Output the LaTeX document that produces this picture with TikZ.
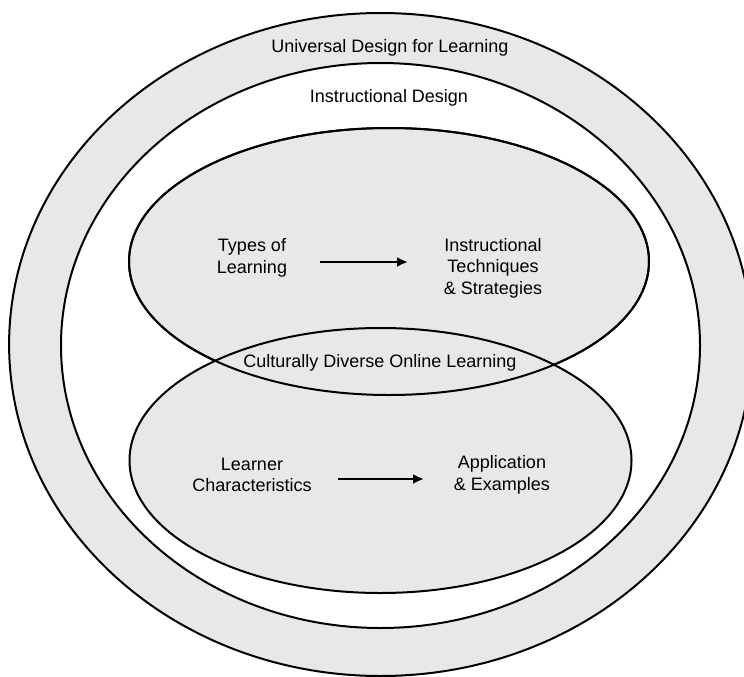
\documentclass[tikz,border=0pt]{standalone}
\usepackage{fontspec}
\setmainfont{Liberation Sans}
\usetikzlibrary{shapes.geometric}
\usetikzlibrary{arrows.meta}
\definecolor{areagray}{RGB}{232,232,232}

\begin{document}
\begin{tikzpicture}[x=1pt,y=-1pt,
  zone/.style={ellipse, draw, line width=2pt, inner sep=0pt},
  caption/.style={align=center, font=\fontsize{18}{21.5}\selectfont},
  flow/.style={-{Latex[length=11pt,width=10pt]}, line width=2.4pt}]
%\draw [help lines] (0,0) grid[step=50] (744,677);
\useasboundingbox (0,0) rectangle (744,677);
\clip (0,0) rectangle (744,677);

\node[zone, fill=areagray, minimum width=743, minimum height=663] (udlz) at (380.6,344.5) {};
\node[zone, fill=white,    minimum width=639, minimum height=565] (indz) at (380.5,345.5) {};
\node[zone, fill=areagray, minimum width=520, minimum height=267] (typz) at (389,261.5) {};
\node[zone, fill=areagray, minimum width=502, minimum height=265] (lrnz) at (380.5,460.5) {};
\draw[line width=2pt] (typz.center) ellipse [x radius=260, y radius=133.5];

\node[caption] (udl)  at (390,48)  {Universal Design for Learning};
\node[caption] (ind)  at (389,98)  {Instructional Design};
\node[caption] (cdol) at (380,363) {Culturally Diverse Online Learning};

\node[caption] (tol) at (252,258) {Types of\\Learning};
\node[caption] (its) at (493,268) {Instructional\\Techniques\\\& Strategies};
\node[caption] (lch) at (252,475) {Learner\\Characteristics};
\node[caption] (app) at (502,475) {Application\\\& Examples};

% Arrows
\coordinate (tols) at (320,262);
\coordinate (itse) at (408,262);
\coordinate (lchs) at (338,479);
\coordinate (appe) at (424,479);
\draw[flow] (tols) -- (itse);
\draw[flow] (lchs) -- (appe);

\end{tikzpicture}
\end{document}
